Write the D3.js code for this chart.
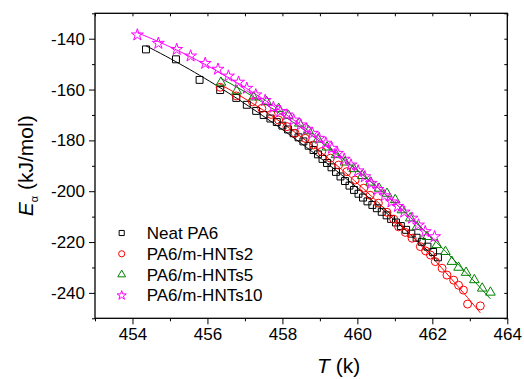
<!DOCTYPE html>
<html>
<head>
<meta charset="utf-8">
<script src="https://cdn.jsdelivr.net/npm/d3@7"></script>
<style>
  body { margin: 0; background: #fff; }
  svg { display: block; font-family: Arial, "Liberation Sans", sans-serif; }
</style>
</head>
<body>
<svg id="chart" width="524" height="379"></svg>
<script>
// Neat PA6
const neatT = [454.36, 455.16, 455.79, 456.34, 456.77, 457.05, 457.30, 457.50, 457.68, 457.85,
  458.00, 458.15, 458.30, 458.43, 458.56, 458.70, 458.83, 458.95, 459.07, 459.19,
  459.31, 459.43, 459.55, 459.67, 459.79, 459.91, 460.03, 460.15, 460.27, 460.40,
  460.52, 460.65, 460.78, 460.90, 461.03, 461.16, 461.30, 461.44, 461.58, 461.72,
  461.87, 462.02, 462.15];
const neatE = [-144.2, -148.1, -156.2, -160.2, -163.3, -166.0, -168.4, -170.0, -171.4, -172.8,
  -174.2, -175.7, -177.2, -178.8, -180.4, -182.1, -183.8, -185.5, -187.3, -188.9,
  -190.6, -192.4, -194.2, -196.0, -197.8, -199.5, -201.0, -202.5, -204.0, -205.4,
  -206.7, -208.1, -209.5, -210.9, -212.3, -213.7, -215.2, -216.7, -218.3, -219.9,
  -221.8, -223.9, -226.0];

// PA6/m-HNTs2
const hnt2T = [456.34, 456.77, 457.20, 457.45, 457.70, 457.90, 458.12, 458.34, 458.61, 458.83,
  459.05, 459.28, 459.50, 459.72, 459.94, 460.17, 460.34, 460.56, 460.79, 460.97,
  461.10, 461.28, 461.46, 461.68, 461.82, 461.95, 462.08, 462.26, 462.39, 462.57,
  462.70, 462.83, 462.94, 463.28];
const hnt2E = [-159.1, -162.5, -164.8, -167.4, -169.8, -172.0, -174.6, -177.2, -179.2, -181.8,
  -184.4, -187.0, -189.7, -192.3, -195.6, -198.8, -201.6, -204.7, -208.3, -211.0,
  -214.0, -216.2, -218.5, -221.8, -223.5, -225.1, -227.7, -230.3, -233.0, -235.0,
  -237.0, -238.9, -244.4, -245.1];

// PA6/m-HNTs5
const hnt5T = [456.36, 456.78, 457.23, 457.58, 457.90, 458.16, 458.45, 458.70, 458.95, 459.19,
  459.43, 459.67, 459.90, 460.13, 460.35, 460.58, 460.79, 461.01, 461.19, 461.41,
  461.59, 461.86, 462.12, 462.35, 462.52, 462.70, 462.90, 463.12, 463.33, 463.55];
const hnt5E = [-157.2, -160.6, -163.0, -164.8, -167.5, -170.2, -173.3, -176.3, -179.6, -182.7,
  -185.7, -188.6, -191.2, -193.9, -196.5, -198.9, -200.9, -203.4, -207.4, -210.6,
  -214.0, -217.9, -221.1, -223.8, -227.7, -230.0, -232.0, -234.9, -238.2, -239.8];

// PA6/m-HNTs10
const hnt10T = [454.13, 454.69, 455.18, 455.55, 455.94, 456.28, 456.56, 456.83, 457.05, 457.29,
  457.54, 457.76, 457.94, 458.12, 458.30, 458.49, 458.65, 458.80, 458.98, 459.16,
  459.32, 459.47, 459.65, 459.83, 460.02, 460.20, 460.37, 460.55, 460.73, 460.91,
  461.08, 461.25, 461.46, 461.63, 461.81, 462.06];
const hnt10E = [-138.5, -141.8, -144.2, -146.8, -149.7, -152.0, -154.7, -157.1, -159.5, -162.1,
  -164.3, -167.0, -168.6, -170.0, -172.0, -173.9, -175.6, -177.2, -179.2, -181.1,
  -183.1, -185.1, -187.4, -189.7, -192.0, -194.3, -196.9, -199.3, -201.8, -204.2,
  -206.0, -208.2, -210.6, -213.3, -215.9, -217.9];

const seriesNames = ['Neat PA6', 'PA6/m-HNTs2', 'PA6/m-HNTs5', 'PA6/m-HNTs10'];
const xMajorTicks = [454, 456, 458, 460, 462, 464];
const xMinorTicks = [453, 455, 457, 459, 461, 463];
const yMajorTicks = [-240, -220, -200, -180, -160, -140];
const yMinorTicks = [-250, -230, -210, -190, -170, -150, -130];

const series = [
  { name: seriesNames[0], T: neatT, E: neatE, color: '#000000', symbol: d3.symbolSquare, size: 48, legendSize: 26 },
  { name: seriesNames[1], T: hnt2T, E: hnt2E, color: '#ff0000', symbol: d3.symbolCircle, size: 50, legendSize: 30 },
  { name: seriesNames[2], T: hnt5T, E: hnt5E, color: '#008000', symbol: d3.symbolTriangle, size: 40, legendSize: 26 },
  { name: seriesNames[3], T: hnt10T, E: hnt10E, color: '#ff00ff', symbol: d3.symbolStar, size: 44, legendSize: 26 }
];

const margin = { top: 13.3, right: 16.7, bottom: 60.7, left: 95 };
const svg = d3.select('#chart');
const width = +svg.attr('width') - margin.left - margin.right;
const height = +svg.attr('height') - margin.top - margin.bottom;

const x = d3.scaleLinear().domain([453, 464]).range([0, width]);
const y = d3.scaleLinear().domain([-250, -130]).range([height, 0]);

const g = svg.append('g').attr('transform', `translate(${margin.left},${margin.top})`);

// quadratic least-squares fit of E on T, for the fit lines
function quadFit(T, E) {
  const t0 = d3.mean(T);
  let s = [0, 0, 0, 0, 0], r = [0, 0, 0];
  T.forEach((t, i) => {
    const u = t - t0;
    for (let k = 0; k < 5; k++) s[k] += Math.pow(u, k);
    for (let k = 0; k < 3; k++) r[k] += E[i] * Math.pow(u, k);
  });
  const A = [[s[0], s[1], s[2], r[0]], [s[1], s[2], s[3], r[1]], [s[2], s[3], s[4], r[2]]];
  for (let i = 0; i < 3; i++) {
    for (let j = i + 1; j < 3; j++) {
      const f = A[j][i] / A[i][i];
      for (let k = i; k < 4; k++) A[j][k] -= f * A[i][k];
    }
  }
  const c = [0, 0, 0];
  for (let i = 2; i >= 0; i--) {
    let v = A[i][3];
    for (let k = i + 1; k < 3; k++) v -= A[i][k] * c[k];
    c[i] = v / A[i][i];
  }
  const [lo, hi] = d3.extent(T);
  return d3.range(0, 61).map(i => {
    const t = lo + (hi - lo) * i / 60;
    const u = t - t0;
    return [t, c[0] + c[1] * u + c[2] * u * u];
  });
}

const line = d3.line().x(d => x(d[0])).y(d => y(d[1]));

series.forEach(s => {
  g.append('path')
    .datum(quadFit(s.T, s.E))
    .attr('d', line)
    .attr('fill', 'none')
    .attr('stroke', s.color)
    .attr('stroke-width', 1);
});

series.forEach(s => {
  g.append('g')
    .selectAll('path')
    .data(s.T.map((t, i) => [t, s.E[i]]))
    .enter().append('path')
    .attr('d', d3.symbol().type(s.symbol).size(s.size))
    .attr('transform', d => `translate(${x(d[0])},${y(d[1])})`)
    .attr('fill', 'none')
    .attr('stroke', s.color)
    .attr('stroke-width', 1);
});

// axes
const fmt = d => String(d);
function styleAxis(sel) {
  sel.select('.domain').remove();
  sel.selectAll('line').attr('stroke', '#000').attr('stroke-width', 1);
  sel.selectAll('text').attr('fill', '#000').style('font-size', '17px');
}

g.append('g').attr('transform', `translate(0,${height})`)
  .call(d3.axisBottom(x).tickValues(xMajorTicks).tickSize(6).tickPadding(4).tickFormat(fmt))
  .call(styleAxis);
g.append('g').attr('transform', `translate(0,${height})`)
  .call(d3.axisBottom(x).tickValues(xMinorTicks).tickSize(3).tickFormat(''))
  .call(styleAxis);
g.append('g')
  .call(d3.axisTop(x).tickValues(xMajorTicks.concat(xMinorTicks)).tickSize(-3).tickFormat(''))
  .call(styleAxis);

g.append('g')
  .call(d3.axisLeft(y).tickValues(yMajorTicks).tickSize(6).tickPadding(4).tickFormat(fmt))
  .call(styleAxis);
g.append('g')
  .call(d3.axisLeft(y).tickValues(yMinorTicks).tickSize(3).tickFormat(''))
  .call(styleAxis);
g.append('g').attr('transform', `translate(${width},0)`)
  .call(d3.axisRight(y).tickValues(yMajorTicks.concat(yMinorTicks)).tickSize(-3).tickFormat(''))
  .call(styleAxis);

g.append('rect')
  .attr('width', width).attr('height', height)
  .attr('fill', 'none').attr('stroke', '#000').attr('stroke-width', 1.3);

// axis titles
const yTitle = svg.append('text')
  .attr('transform', `translate(33,${margin.top + height / 2}) rotate(-90)`)
  .attr('text-anchor', 'middle')
  .style('font-size', '21px');
yTitle.append('tspan').style('font-style', 'italic').text('E');
yTitle.append('tspan').attr('dy', 5).style('font-size', '11px').text('α');
yTitle.append('tspan').attr('dy', -5).text(' (kJ/mol)');

const xTitle = svg.append('text')
  .attr('x', margin.left + x(459.5)).attr('y', 373)
  .attr('text-anchor', 'middle')
  .style('font-size', '21px');
xTitle.append('tspan').style('font-style', 'italic').text('T');
xTitle.append('tspan').text(' (k)');

// legend
const legend = svg.append('g').attr('transform', 'translate(121.7,233)');
series.forEach((s, i) => {
  const row = legend.append('g').attr('transform', `translate(0,${i * 20.8})`);
  row.append('path')
    .attr('d', d3.symbol().type(s.symbol).size(s.legendSize))
    .attr('fill', 'none').attr('stroke', s.color).attr('stroke-width', 1);
  row.append('text')
    .attr('x', 25).attr('y', 6)
    .style('font-size', '17px')
    .text(s.name);
});
</script>
</body>
</html>
